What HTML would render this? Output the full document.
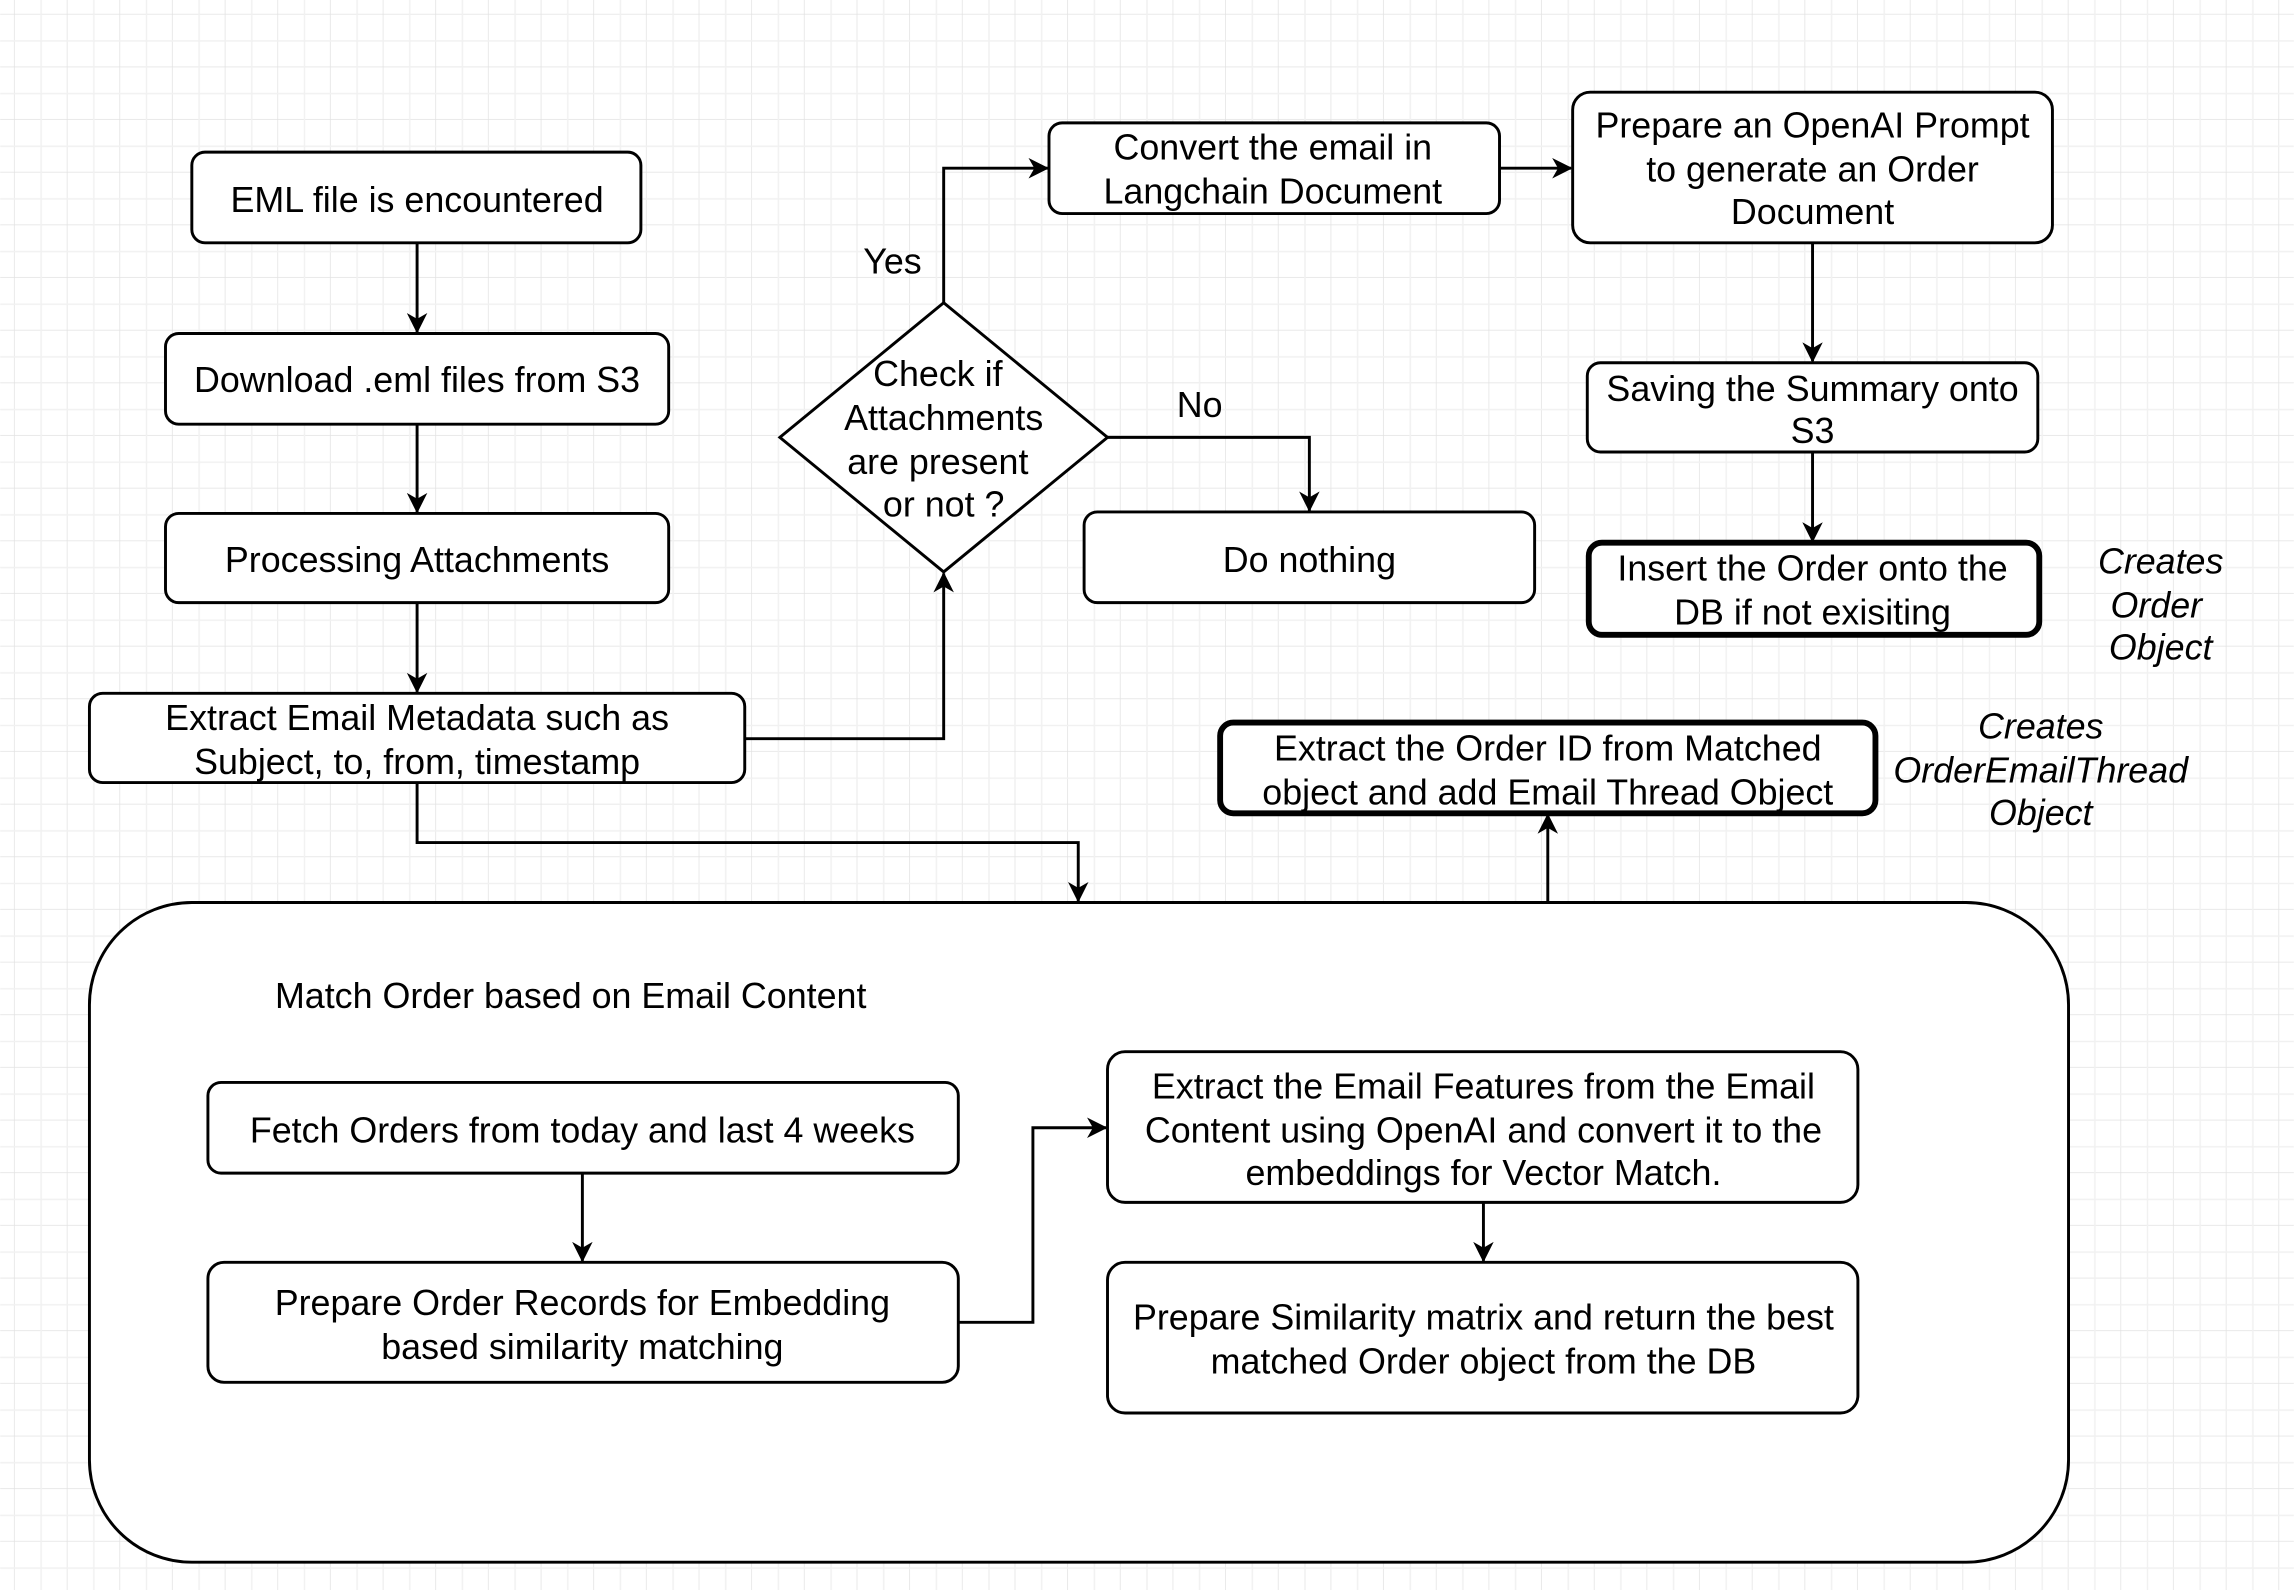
<!DOCTYPE html>
<html><head><meta charset="utf-8">
<style>
html,body{margin:0;padding:0;background:#fff;}
svg{display:block;}
text{font-family:"Liberation Sans",sans-serif;font-size:24.5px;fill:#000;text-anchor:middle;}
.it{font-style:italic;}
</style></head><body>
<svg width="2294" height="1590" viewBox="0 0 1568 1087" xmlns="http://www.w3.org/2000/svg">
<defs>
<pattern id="g" width="36" height="36" patternUnits="userSpaceOnUse" x="10" y="10">
<path d="M36 0V36M0 36H36" fill="none" stroke="#e2e2e2" stroke-width="1"/>
<path d="M18 0V36M0 18H36" fill="none" stroke="#f1f1f1" stroke-width="1"/>
</pattern>
<marker id="a" markerWidth="14" markerHeight="14" refX="13" refY="7" orient="auto" markerUnits="userSpaceOnUse" viewBox="0 0 14 14">
<path d="M0,0 L14,7 L0,14 L4,7 z" fill="#000"/>
</marker>
</defs>
<rect width="1568" height="1087" fill="url(#g)"/>
<g fill="#fff" stroke="#000" stroke-width="2">
<rect x="131" y="104" width="307" height="62" rx="9"/>
<rect x="113" y="228" width="344" height="62" rx="9"/>
<rect x="113" y="351" width="344" height="61" rx="9"/>
<rect x="61" y="474" width="448" height="61" rx="9"/>
<polygon points="645,207 757,299 645,391 533,299"/>
<rect x="717" y="84" width="308" height="62" rx="9"/>
<rect x="1075" y="63" width="328" height="103" rx="12"/>
<rect x="1085" y="248" width="308" height="61" rx="9"/>
<rect x="1086" y="371" width="308" height="63" rx="9" stroke-width="4"/>
<rect x="741" y="350" width="308" height="62" rx="9"/>
<rect x="834" y="494" width="448" height="62" rx="9" stroke-width="4"/>
<rect x="61" y="617" width="1353" height="451" rx="70"/>
<rect x="142" y="740" width="513" height="62" rx="9"/>
<rect x="142" y="863" width="513" height="82" rx="11"/>
<rect x="757" y="719" width="513" height="103" rx="12"/>
<rect x="757" y="863" width="513" height="103" rx="12"/>
</g>
<g fill="none" stroke="#000" stroke-width="2" marker-end="url(#a)">
<path d="M285 166V227"/>
<path d="M285 290V350"/>
<path d="M285 412V473"/>
<path d="M509 505H645V392"/>
<path d="M645 207V115H716"/>
<path d="M757 299H895V349"/>
<path d="M1025 115H1074"/>
<path d="M1239 166V247"/>
<path d="M1239 309V370"/>
<path d="M285 535V576H737V616"/>
<path d="M1058 617V557"/>
<path d="M398 802V862"/>
<path d="M655 904H706V771H756"/>
<path d="M1014 822V862"/>
</g>
<text x="285" y="145">EML file is encountered</text>
<text x="285" y="268">Download .eml files from S3</text>
<text x="285" y="391">Processing Attachments</text>
<text x="285" y="499">Extract Email Metadata such as</text>
<text x="285" y="529">Subject, to, from, timestamp</text>
<text x="641" y="264">Check if</text>
<text x="645" y="294">Attachments</text>
<text x="641" y="324">are present</text>
<text x="645" y="353">or not ?</text>
<text x="610" y="187">Yes</text>
<text x="820" y="285">No</text>
<text x="870" y="109">Convert the email in</text>
<text x="870" y="139">Langchain Document</text>
<text x="1239" y="94">Prepare an OpenAI Prompt</text>
<text x="1239" y="124">to generate an Order</text>
<text x="1239" y="153">Document</text>
<text x="1239" y="274">Saving the Summary onto</text>
<text x="1239" y="303">S3</text>
<text x="1239" y="397">Insert the Order onto the</text>
<text x="1239" y="427">DB if not exisiting</text>
<text x="895" y="391">Do nothing</text>
<text class="it" x="1477" y="392">Creates</text>
<text class="it" x="1474" y="422">Order</text>
<text class="it" x="1477" y="451">Object</text>
<text x="1058" y="520">Extract the Order ID from Matched</text>
<text x="1058" y="550">object and add Email Thread Object</text>
<text class="it" x="1395" y="505">Creates</text>
<text class="it" x="1395" y="535">OrderEmailThread</text>
<text class="it" x="1395" y="564">Object</text>
<text x="390" y="689">Match Order based on Email Content</text>
<text x="398" y="781">Fetch Orders from today and last 4 weeks</text>
<text x="398" y="899">Prepare Order Records for Embedding</text>
<text x="398" y="929">based similarity matching</text>
<text x="1014" y="751">Extract the Email Features from the Email</text>
<text x="1014" y="781">Content using OpenAI and convert it to the</text>
<text x="1014" y="810">embeddings for Vector Match.</text>
<text x="1014" y="909">Prepare Similarity matrix and return the best</text>
<text x="1014" y="939">matched Order object from the DB</text>
</svg>
</body></html>
